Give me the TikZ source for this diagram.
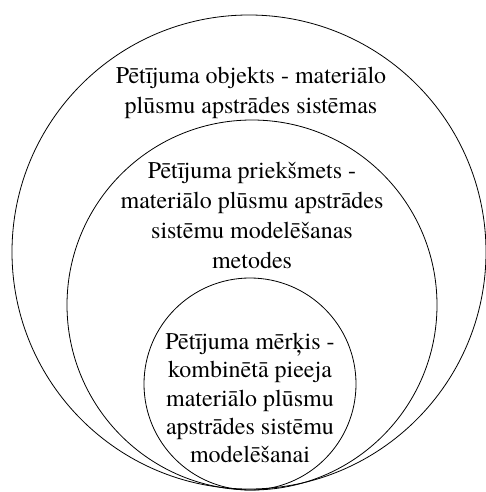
\documentclass[tikz,border=0pt]{standalone}
\usepackage{fontspec}
\newfontfamily\tnr{TeX Gyre Termes}
\begin{document}
\begin{tikzpicture}[x=1pt,y=-1pt,
  ring/.style={draw=black,line width=0.8pt},
  label/.style={align=center,inner sep=0pt,font=\tnr\fontsize{24}{30}\selectfont}]
\useasboundingbox (0,0) rectangle (486,492);
\fill[white] (0,0) rectangle (486,492);
\draw[ring] (249,252) circle[radius=237];
\draw[ring] (252,305) circle[radius=185];
\draw[ring] (250,384) circle[radius=106];
\node[label] (obj) at (251,93) {Pētījuma objekts - materiālo\\plūsmu apstrādes sistēmas};
\node[label] (prie) at (252,215) {Pētījuma priekšmets -\\materiālo plūsmu apstrādes\\sistēmu modelēšanas\\metodes};
\node[label,font=\tnr\fontsize{24}{28.3}\selectfont] (merk) at (250,398) {Pētījuma mērķis -\\kombinētā pieeja\\materiālo plūsmu\\apstrādes sistēmu\\modelēšanai};
\end{tikzpicture}
\end{document}
